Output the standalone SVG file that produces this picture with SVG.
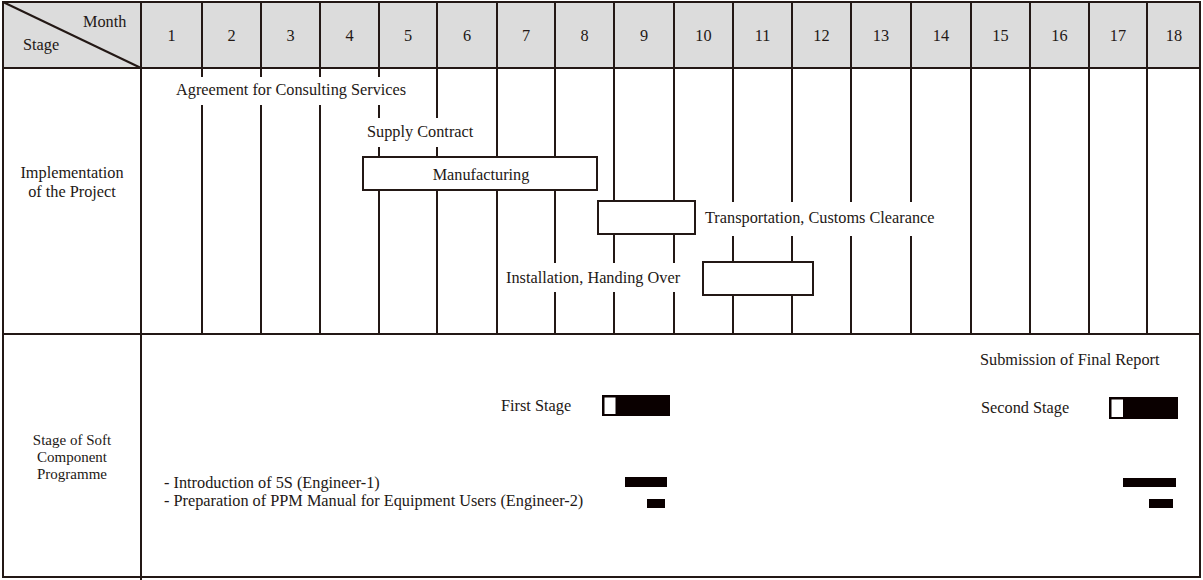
<svg xmlns="http://www.w3.org/2000/svg" width="1203" height="580" viewBox="0 0 1203 580">
<style>
.t{font-family:"Liberation Serif","Times New Roman",serif;font-size:16.3px;fill:#231815}
.m{text-anchor:middle}
.s{font-size:15px}
.ln{stroke:#231815;stroke-width:2;fill:none}
.bx{stroke:#231815;stroke-width:2;fill:#ffffff}
.bk{fill:#0a0000}
</style>
<rect x="0" y="0" width="1203" height="580" fill="#ffffff"/>
<g id="header">
<rect x="3" y="2" width="1197" height="66" fill="#dcdcdc"/>
<line class="ln" x1="3" y1="2" x2="141" y2="68"/>
<text class="t" x="83" y="27">Month</text>
<text class="t" x="23" y="50">Stage</text>
<g class="t m">
<text x="171.5" y="41">1</text><text x="231.5" y="41">2</text><text x="290.5" y="41">3</text>
<text x="349.5" y="41">4</text><text x="408" y="41">5</text><text x="467" y="41">6</text>
<text x="526" y="41">7</text><text x="584.5" y="41">8</text><text x="644" y="41">9</text>
<text x="703.5" y="41">10</text><text x="762.5" y="41">11</text><text x="821.5" y="41">12</text>
<text x="881" y="41">13</text><text x="941" y="41">14</text><text x="1000.5" y="41">15</text>
<text x="1059.5" y="41">16</text><text x="1118" y="41">17</text><text x="1174" y="41">18</text>
</g>
</g>
<g id="grid" class="ln">
<rect x="3" y="2" width="1197" height="575"/>
<line x1="3" y1="68" x2="1200" y2="68"/>
<line x1="3" y1="334" x2="1200" y2="334"/>
<line x1="141" y1="2" x2="141" y2="580"/>
<path d="M202 2V77M202 105V334M261 2V77M261 105V334M320 2V77M320 105V334M379 2V77M379 105V118M379 147V334M437 2V118M437 147V334M497 2V334M555 2V263M555 292V334M614 2V263M614 292V334M674 2V263M674 292V334M733 2V202M733 236V334M792 2V202M792 236V334M851 2V202M851 236V334M911 2V202M911 236V334M971 2V334M1030 2V334M1089 2V334M1147 2V334"/>
</g>
<g id="stage-labels" class="t m">
<text x="72" y="178">Implementation<tspan x="72" dy="19">of the Project</tspan></text>
<text class="s" x="72" y="445">Stage of Soft<tspan x="72" dy="16.8">Component</tspan><tspan x="72" dy="16.8">Programme</tspan></text>
</g>
<g id="implementation">
<text class="t" x="176" y="95">Agreement for Consulting Services</text>
<text class="t" x="367" y="137">Supply Contract</text>
<g id="manufacturing"><rect class="bx" x="363" y="157" width="234" height="33"/><text class="t m" x="481" y="180">Manufacturing</text></g>
<g id="transportation"><rect class="bx" x="598" y="201" width="97" height="33"/><text class="t" x="705" y="223">Transportation, Customs Clearance</text></g>
<g id="installation"><rect class="bx" x="703" y="262" width="110" height="33"/><text class="t" x="506" y="283">Installation, Handing Over</text></g>
</g>
<g id="soft-component">
<text class="t" x="980" y="365">Submission of Final Report</text>
<g id="first-stage"><text class="t" x="501" y="411">First Stage</text><rect class="bk" x="602" y="395" width="68" height="21"/><rect x="604.5" y="397.5" width="11" height="16.5" fill="#ffffff"/></g>
<g id="second-stage"><text class="t" x="981" y="413">Second Stage</text><rect class="bk" x="1109" y="397" width="69" height="22"/><rect x="1111.5" y="399.5" width="11.5" height="17.5" fill="#ffffff"/></g>
<text class="t" x="164" y="488">- Introduction of 5S (Engineer-1)</text>
<text class="t" x="164" y="506">- Preparation of PPM Manual for Equipment Users (Engineer-2)</text>
<rect class="bk" x="625" y="477" width="42" height="10"/>
<rect class="bk" x="647" y="499" width="18" height="9"/>
<rect class="bk" x="1123" y="478" width="53" height="9"/>
<rect class="bk" x="1149" y="499" width="24" height="9"/>
</g>
</svg>
